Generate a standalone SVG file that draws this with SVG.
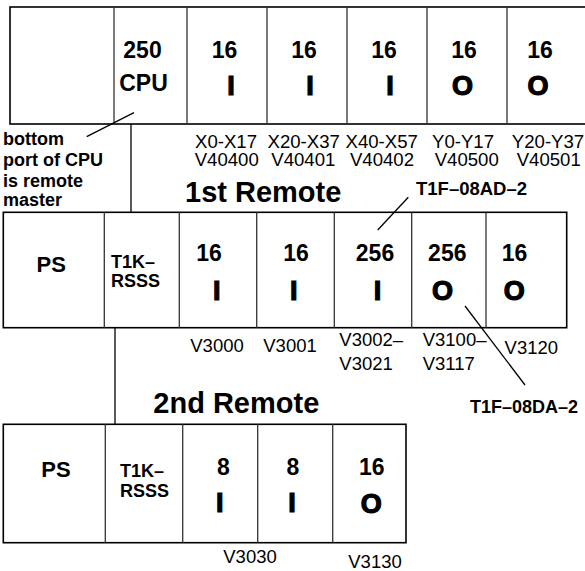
<svg xmlns="http://www.w3.org/2000/svg" width="585" height="571" viewBox="0 0 585 571">
<style>
text{font-family:"Liberation Sans",Arial,sans-serif;fill:#000}
.rack{fill:#fff;stroke:#000;stroke-width:1.6}
.div{stroke:#333;stroke-width:1.3}
.num{font-size:23px;font-weight:bold;text-anchor:middle}
.io{font-size:27px;font-weight:bold;text-anchor:middle;stroke:#000;stroke-width:1.2}
.ps{font-size:22px;font-weight:bold;text-anchor:middle}
.rs{font-size:18px;font-weight:bold}
.lbl{font-size:18.6px}
.lbl2{font-size:18.5px}
.title{font-size:29px;font-weight:bold}
.note{font-size:18px;font-weight:bold}
.conn{stroke:#000;stroke-width:1.3;fill:none}
.mid{text-anchor:middle}
</style>
<g id="cpu-rack">
<rect class="rack" x="10" y="7" width="585" height="117"/>
<line class="div" x1="114" y1="7" x2="114" y2="124"/>
<line class="div" x1="187" y1="7" x2="187" y2="124"/>
<line class="div" x1="267" y1="7" x2="267" y2="124"/>
<line class="div" x1="347" y1="7" x2="347" y2="124"/>
<line class="div" x1="427" y1="7" x2="427" y2="124"/>
<line class="div" x1="507" y1="7" x2="507" y2="124"/>
<text class="num" x="142.5" y="58">250</text>
<text class="num" x="143.5" y="91">CPU</text>
<text class="num" x="224.5" y="58">16</text><text class="io" x="231" y="95">I</text>
<text class="num" x="304" y="58">16</text><text class="io" x="310" y="95">I</text>
<text class="num" x="384" y="58">16</text><text class="io" x="390" y="95">I</text>
<text class="num" x="464" y="58">16</text><text class="io" x="462.5" y="95">O</text>
<text class="num" x="540" y="58">16</text><text class="io" x="538" y="95">O</text>
</g>
<g id="cpu-labels">
<text class="lbl mid" x="226" y="147.5">X0-X17</text>
<text class="lbl mid" x="226.7" y="165.7">V40400</text>
<text class="lbl mid" x="303.7" y="147.5">X20-X37</text>
<text class="lbl mid" x="303.3" y="165.7">V40401</text>
<text class="lbl mid" x="381.7" y="147.5">X40-X57</text>
<text class="lbl mid" x="382" y="165.7">V40402</text>
<text class="lbl mid" x="463" y="147.5">Y0-Y17</text>
<text class="lbl mid" x="466.7" y="165.7">V40500</text>
<text class="lbl mid" x="548" y="147.5">Y20-Y37</text>
<text class="lbl mid" x="548.7" y="165.7">V40501</text>
</g>
<g id="note">
<text class="note" x="3" y="145">bottom</text>
<text class="note" x="3" y="165.7">port of CPU</text>
<text class="note" x="3" y="186.7">is remote</text>
<text class="note" x="3" y="206">master</text>
</g>
<g id="remote1">
<text class="title" x="185" y="201.7">1st Remote</text>
<rect class="rack" x="3.3" y="212.3" width="563.4" height="115.4"/>
<line class="div" x1="104.3" y1="212.3" x2="104.3" y2="327.7"/>
<line class="div" x1="179.3" y1="212.3" x2="179.3" y2="327.7"/>
<line class="div" x1="256.7" y1="212.3" x2="256.7" y2="327.7"/>
<line class="div" x1="334.3" y1="212.3" x2="334.3" y2="327.7"/>
<line class="div" x1="411.7" y1="212.3" x2="411.7" y2="327.7"/>
<line class="div" x1="486" y1="212.3" x2="486" y2="327.7"/>
<text class="ps" x="51.3" y="272.3">PS</text>
<text class="rs" x="111" y="268.3">T1K–</text>
<text class="rs" x="111" y="286.7">RSSS</text>
<text class="num" x="209" y="261">16</text><text class="io" x="216.7" y="299.5">I</text>
<text class="num" x="296" y="261">16</text><text class="io" x="293.7" y="299.5">I</text>
<text class="num" x="375" y="261">256</text><text class="io" x="377.5" y="299.5">I</text>
<text class="num" x="447.3" y="261">256</text><text class="io" x="442.5" y="299.5">O</text>
<text class="num" x="514.5" y="261">16</text><text class="io" x="514.3" y="299.5">O</text>
</g>
<g id="remote1-labels">
<text class="lbl2 mid" x="217" y="352">V3000</text>
<text class="lbl2 mid" x="290" y="352">V3001</text>
<text class="lbl2" x="339.3" y="346">V3002–</text>
<text class="lbl2" x="339.3" y="370">V3021</text>
<text class="lbl2" x="422.7" y="346">V3100–</text>
<text class="lbl2" x="422.7" y="370">V3117</text>
<text class="lbl2 mid" x="531.3" y="354.3">V3120</text>
</g>
<g id="callout-ad">
<text class="note" x="416" y="195" style="font-size:18.5px">T1F–08AD–2</text>
</g>
<g id="callout-da">
<text class="note" x="470" y="413.3">T1F–08DA–2</text>
</g>
<g id="remote2">
<text class="title" x="153.3" y="413.3">2nd Remote</text>
<rect class="rack" x="3.3" y="424.3" width="402.7" height="118.4"/>
<line class="div" x1="105.3" y1="424.3" x2="105.3" y2="542.7"/>
<line class="div" x1="182.7" y1="424.3" x2="182.7" y2="542.7"/>
<line class="div" x1="257.7" y1="424.3" x2="257.7" y2="542.7"/>
<line class="div" x1="332.7" y1="424.3" x2="332.7" y2="542.7"/>
<text class="ps" x="56" y="476.7">PS</text>
<text class="rs" x="120" y="476.7">T1K–</text>
<text class="rs" x="120" y="497.3">RSSS</text>
<text class="num" x="223.3" y="475">8</text><text class="io" x="219.7" y="512">I</text>
<text class="num" x="293" y="475">8</text><text class="io" x="292" y="512">I</text>
<text class="num" x="371.7" y="475">16</text><text class="io" x="371.3" y="512.7">O</text>
</g>
<g id="remote2-labels">
<text class="lbl2 mid" x="250" y="562.7">V3030</text>
<text class="lbl2 mid" x="375" y="567.5">V3130</text>
</g>
<g id="connectors">
<line class="conn" x1="86.7" y1="136.7" x2="134" y2="112.7"/>
<line class="conn" x1="131" y1="124" x2="131" y2="212.3"/>
<line class="conn" x1="115" y1="327.7" x2="115" y2="424.3"/>
<line class="conn" x1="408.3" y1="197.3" x2="377.7" y2="230"/>
<line class="conn" x1="465" y1="306" x2="525" y2="385"/>
</g>
</svg>
